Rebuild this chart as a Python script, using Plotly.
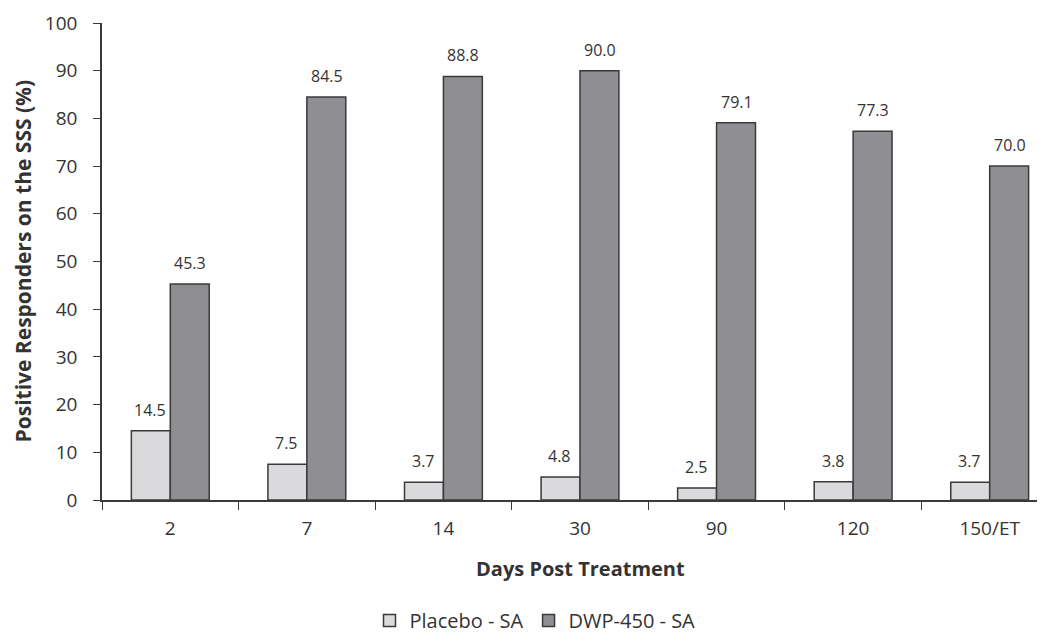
import plotly.graph_objects as go

days = ["2", "7", "14", "30", "90", "120", "150/ET"]
placebo = [14.5, 7.5, 3.7, 4.8, 2.5, 3.8, 3.7]
dwp450 = [45.3, 84.5, 88.8, 90.0, 79.1, 77.3, 70.0]
y_ticks = [0, 10, 20, 30, 40, 50, 60, 70, 80, 90, 100]

FONT = "Open Sans"
TXT = "#333333"
EDGE = "#3a3a3a"

OFF = 8  # page body margin
W, H = 1045 - OFF, 640 - OFF
L, R, T = 102 - OFF, 0, 23 - OFF
PH = 477
B = H - T - PH
PW = W - L - R

fig = go.Figure()
fig.add_trace(go.Bar(x=days, y=placebo, name="Placebo - SA",
                     marker=dict(color="#dadadc", line=dict(color=EDGE, width=1.5))))
fig.add_trace(go.Bar(x=days, y=dwp450, name="DWP-450 - SA",
                     marker=dict(color="#8f8f93", line=dict(color=EDGE, width=1.5))))

for i, v in enumerate(placebo):
    fig.add_annotation(x=i, y=v, xref="x", yref="y", text=f"{v:.1f}", showarrow=False,
                       xshift=-20, yshift=21, font=dict(family=FONT, size=16, color=TXT))
for i, v in enumerate(dwp450):
    fig.add_annotation(x=i, y=v, xref="x", yref="y", text=f"{v:.1f}", showarrow=False,
                       xshift=20, yshift=21, font=dict(family=FONT, size=16, color=TXT))

# axis titles (screen coords converted to paper coords)
fig.add_annotation(xref="paper", yref="paper", x=-(102 - 22) / PW, y=0.5,
                   text="<b>Positive Responders on the SSS (%)</b>", textangle=-90,
                   showarrow=False, xanchor="center", yanchor="middle",
                   font=dict(family=FONT, size=21, color=TXT))
fig.add_annotation(xref="paper", yref="paper", x=(580 - 102) / PW, y=-(568 - 500) / PH,
                   text="<b>Days Post Treatment</b>",
                   showarrow=False, xanchor="center", yanchor="middle",
                   font=dict(family=FONT, size=20, color=TXT))

fig.update_layout(
    width=W, height=H,
    margin=dict(l=L, r=R, t=T, b=B, autoexpand=False),
    plot_bgcolor="white", paper_bgcolor="white",
    barmode="group", bargap=0.43, bargroupgap=0,
    font=dict(family=FONT, color=TXT),
    showlegend=True,
    legend=dict(orientation="h", x=(535 - 102) / PW, xanchor="center",
                y=-B / PH, yanchor="bottom", itemwidth=30,
                font=dict(family=FONT, size=20, color=TXT), traceorder="normal"),
    xaxis=dict(type="category", range=[-0.5, 6.405], tickson="boundaries", automargin=False,
               ticks="outside", ticklen=8, tickcolor=EDGE, showline=True, linecolor=EDGE,
               linewidth=1.5, showgrid=False, ticklabelstandoff=10,
               tickfont=dict(family=FONT, size=19, color=TXT)),
    yaxis=dict(range=[0, 100], tickvals=y_ticks, ticks="outside", ticklen=7, tickcolor=EDGE,
               automargin=False, showline=True, linecolor=EDGE, linewidth=1.5, showgrid=False,
               zeroline=False, ticklabelstandoff=12,
               tickfont=dict(family=FONT, size=19, color=TXT)),
)

fig.write_html("out.html")
